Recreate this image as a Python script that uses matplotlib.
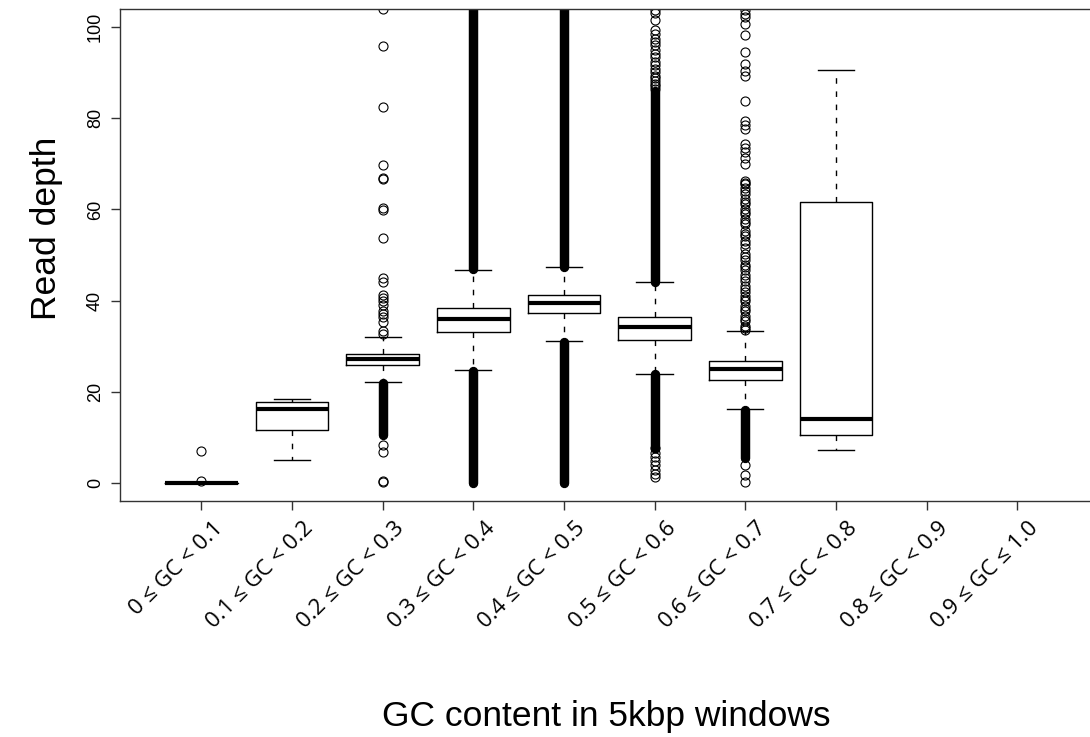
import matplotlib
matplotlib.use("Agg")
from matplotlib import pyplot as plt
from matplotlib import transforms

plt.rcParams['font.family'] = ['Liberation Sans', 'DejaVu Sans']

gc_bins = ["0 ≤ GC < 0.1", "0.1 ≤ GC < 0.2", "0.2 ≤ GC < 0.3", "0.3 ≤ GC < 0.4",
           "0.4 ≤ GC < 0.5", "0.5 ≤ GC < 0.6", "0.6 ≤ GC < 0.7", "0.7 ≤ GC < 0.8",
           "0.8 ≤ GC < 0.9", "0.9 ≤ GC ≤ 1.0"]

# box summaries for the bins that have windows (last two bins are empty)
whisker_lo = [0.0, 5.0, 22.1, 24.7, 31.1, 23.8, 16.1, 7.2]
q1 = [0.0, 11.6, 25.8, 33.0, 37.2, 31.3, 22.5, 10.5]
median = [0.0, 16.1, 27.2, 35.9, 39.4, 34.1, 24.9, 14.0]
q3 = [0.0, 17.8, 28.3, 38.4, 41.3, 36.5, 26.8, 61.7]
whisker_hi = [0.0, 18.3, 32.1, 46.7, 47.3, 44.1, 33.3, 90.5]

# single outlying windows
outliers = [
    [7.0, 0.3],
    [],
    [103.9, 95.9, 82.4, 69.8, 67.0, 66.7, 60.3, 59.9, 53.7, 44.9, 44.1, 41.3,
     40.6, 39.9, 39.0, 37.7, 37.0, 36.4, 35.3, 33.3, 32.7, 8.3, 6.8, 0.5, 0.2],
    [],
    [],
    [86.5, 87.2, 87.6, 88.3, 88.8, 89.2, 90.2, 90.9, 91.6, 92.4, 93.5, 94.2,
     94.9, 96.0, 96.8, 97.5, 98.6, 99.3, 101.5, 103.1, 103.7,
     7.6, 6.5, 5.7, 4.8, 3.9, 2.8, 2.0, 1.3],
    [103.7, 103.0, 102.3, 100.7, 98.2, 94.6, 92.0, 90.4, 89.2, 83.8, 79.5, 78.6,
     77.7, 74.4, 73.5, 72.5, 71.4, 70.0, 66.3, 65.9, 65.6, 64.6, 64.0, 63.4,
     62.3, 61.7, 61.2, 60.1, 59.5, 59.0, 57.9, 57.3, 56.8, 55.3, 54.7, 54.2,
     53.1, 52.4, 51.6, 50.2, 49.6, 49.0, 47.9, 47.3, 46.8, 45.7, 45.0, 44.3,
     43.2, 42.5, 41.9, 41.0, 40.4, 39.9, 38.8, 38.2, 37.7, 36.6, 36.0, 35.5,
     34.4, 33.9, 33.6,
     3.9, 1.7, 0.2],
    [],
]

# ranges so packed with outliers that the circles merge into a solid run
dense_runs = [
    [],
    [],
    [(10.5, 22.0)],
    [(0.0, 24.5), (46.9, 104.0)],
    [(0.0, 31.0), (47.4, 104.0)],
    [(7.6, 23.8), (44.1, 86.0)],
    [(5.4, 16.0)],
    [],
]

fig = plt.figure(figsize=(10.9, 7.37), dpi=100)
ax = fig.add_axes([0.110, 0.3202, 0.898, 0.6676])

stats = []
for i in range(len(median)):
    stats.append(dict(whislo=whisker_lo[i], q1=q1[i], med=median[i],
                      q3=q3[i], whishi=whisker_hi[i]))
positions = list(range(1, len(median) + 1))

ax.bxp(stats, positions=positions, widths=0.8, capwidths=0.4, showfliers=False,
       boxprops=dict(color='black', linewidth=1.0),
       medianprops=dict(color='black', linewidth=3.0),
       whiskerprops=dict(color='black', linewidth=1.0, linestyle=(0, (4.0, 5.5))),
       capprops=dict(color='black', linewidth=1.0))

for pos, runs in zip(positions, dense_runs):
    for lo, hi in runs:
        ax.plot([pos, pos], [lo, hi], color='black', linewidth=6.8,
                solid_capstyle='round')

for pos, vals in zip(positions, outliers):
    if vals:
        ax.plot([pos] * len(vals), vals, 'o', mfc='none', mec='black',
                ms=6.5, mew=0.8)

ax.set_xlim(0.1, 10.9)
ax.set_ylim(-4, 104)
ax.set_yticks([0, 20, 40, 60, 80, 100])
ax.set_xticks(range(1, len(gc_bins) + 1))
ax.set_xticklabels([])
ax.tick_params(axis='both', direction='out', length=6.5, width=1.0, color='#333333')
ax.tick_params(axis='y', labelrotation=90, labelsize=13, pad=5)
for lbl in ax.get_yticklabels():
    lbl.set_verticalalignment('center')
for side in ['left', 'bottom', 'top', 'right']:
    ax.spines[side].set_linewidth(1.0)
    ax.spines[side].set_color('#333333')

trans = transforms.blended_transform_factory(ax.transData, ax.transAxes)
for i, lab in enumerate(gc_bins):
    ax.text(i + 1 + 0.2, -0.05, lab, transform=trans, rotation=45,
            rotation_mode='anchor', ha='right', va='center', fontsize=16,
            family=['Open Sans', 'DejaVu Sans'])

ax.set_xlabel("GC content in 5kbp windows", fontsize=25.5)
ax.xaxis.set_label_coords(0.497, -0.437)
ax.xaxis.label.set_verticalalignment('center')
ax.set_ylabel("Read depth", fontsize=25.5)
ax.yaxis.set_label_coords(-0.0745, 0.555)
ax.yaxis.label.set_verticalalignment('center')

fig.savefig("out.png", dpi=100)
